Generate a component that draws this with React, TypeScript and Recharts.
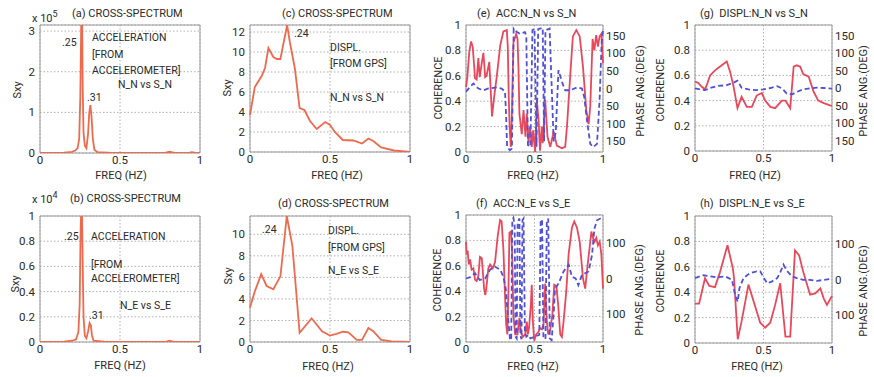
import { CartesianGrid, Line, LineChart, ReferenceArea, XAxis, YAxis } from "recharts";
import type { ReactNode } from "react";

type Pt = [number, number]; // [freq (Hz), value]

// (a) cross-spectrum, acceleration N_N vs S_N (x 10^5)
const accSpecNN: Pt[] = [
  [0, 0], [0.1, 0.005], [0.15, 0.01], [0.2, 0.03], [0.22, 0.06], [0.235, 0.12], [0.245, 0.35],
  [0.252, 1.4], [0.258, 3.3], [0.263, 3.3], [0.267, 1.6], [0.272, 0.5], [0.28, 0.18], [0.29, 0.12],
  [0.3, 0.45], [0.308, 1.0], [0.315, 1.18], [0.322, 0.9], [0.33, 0.35], [0.34, 0.08], [0.36, 0.02],
  [0.45, 0.005], [0.6, 0], [0.78, 0.005], [0.81, 0.03], [0.84, 0.005], [0.93, 0.005], [0.95, 0.02],
  [0.97, 0.005], [1, 0],
];

// (b) cross-spectrum, acceleration N_E vs S_E (x 10^4)
const accSpecNE: Pt[] = [
  [0, 0], [0.15, 0.003], [0.2, 0.01], [0.225, 0.02], [0.24, 0.08], [0.248, 0.3], [0.254, 0.9],
  [0.258, 1.05], [0.262, 1.05], [0.266, 0.7], [0.272, 0.2], [0.28, 0.05], [0.29, 0.03], [0.3, 0.08],
  [0.31, 0.15], [0.318, 0.13], [0.325, 0.05], [0.335, 0.01], [0.4, 0.003], [0.6, 0], [0.79, 0.003],
  [0.81, 0.01], [0.83, 0.003], [1, 0],
];

// (c) cross-spectrum, GPS displacement N_N vs S_N
const gpsSpecNN: Pt[] = [
  [0, 3.7], [0.03, 6.5], [0.073, 7.6], [0.094, 8.4], [0.115, 10.4], [0.146, 9.5], [0.167, 9.3],
  [0.19, 9.3], [0.232, 12.7], [0.25, 10.9], [0.28, 8.4], [0.31, 4.4], [0.34, 4.2], [0.375, 3.1],
  [0.417, 2.3], [0.47, 3.0], [0.5, 2.7], [0.53, 2.0], [0.58, 1.2], [0.646, 1.15], [0.7, 0.85],
  [0.74, 1.35], [0.77, 1.1], [0.82, 0.45], [0.9, 0.15], [1, 0],
];

// (d) cross-spectrum, GPS displacement N_E vs S_E
const gpsSpecNE: Pt[] = [
  [0, 3.2], [0.03, 4.7], [0.07, 6.3], [0.104, 5.2], [0.146, 4.9], [0.19, 6.1], [0.23, 11.7],
  [0.265, 8.9], [0.31, 0.85], [0.385, 2.2], [0.45, 1.0], [0.5, 0.6], [0.54, 0.75], [0.58, 0.95],
  [0.615, 0.9], [0.667, 0.2], [0.7, 0.2], [0.74, 1.3], [0.77, 1.0], [0.82, 0.2], [0.885, 0.05], [1, 0],
];

// (e) coherence / phase, ACC N_N vs S_N
const cohAccNN: Pt[] = [
  [0, 0.51], [0.01, 0.59], [0.024, 0.79], [0.037, 0.87], [0.049, 0.83], [0.066, 0.58], [0.078, 0.57],
  [0.09, 0.74], [0.1, 0.59], [0.115, 0.7], [0.127, 0.78], [0.14, 0.59], [0.15, 0.6], [0.17, 0.71],
  [0.19, 0.28], [0.205, 0.43], [0.224, 0.59], [0.25, 0.84], [0.273, 0.95], [0.298, 0.96], [0.305, 0.83],
  [0.312, 0.43], [0.32, 0.16], [0.327, 0.04], [0.334, 0.25], [0.346, 0.86], [0.366, 0.93], [0.376, 0.89],
  [0.383, 0.66], [0.39, 0.3], [0.407, 0.14], [0.42, 0.33], [0.434, 0.12], [0.444, 0.3], [0.456, 0.07],
  [0.468, 0.2], [0.48, 0.04], [0.49, 0.17], [0.505, 0], [0.517, 0.41], [0.53, 0.25], [0.54, 0.01],
  [0.553, 0.2], [0.56, 0.07], [0.578, 0.41], [0.595, 0.12], [0.615, 0.04], [0.64, 0.16], [0.663, 0.05],
  [0.7, 0.03], [0.724, 0.04], [0.737, 0.2], [0.76, 0.59], [0.78, 0.91], [0.805, 0.96], [0.83, 0.91],
  [0.854, 0.67], [0.878, 0.33], [0.895, 0.22], [0.907, 0.36], [0.924, 0.89], [0.937, 0.8], [0.95, 0.92],
  [0.963, 0.83], [0.975, 0.91], [0.988, 0.93], [1, 0.7],
];
const phAccNN: Pt[] = [
  [0, -9], [0.03, 5], [0.054, 14], [0.09, 0], [0.127, -5], [0.163, 0], [0.224, 3], [0.26, 0],
  [0.285, -9], [0.293, -80], [0.3, -165], [0.32, -175], [0.335, -170], [0.348, 170], [0.37, 161],
  [0.395, 155], [0.43, 160], [0.44, 150], [0.452, -160], [0.47, -165], [0.485, 165], [0.5, 170],
  [0.515, -165], [0.527, 168], [0.56, 172], [0.57, -150], [0.58, 165], [0.61, 170], [0.64, -150],
  [0.655, -125], [0.675, 52], [0.7, 19], [0.724, -5], [0.76, -5], [0.81, 3], [0.846, 0], [0.863, -24],
  [0.883, -90], [0.907, -157], [0.93, -166], [0.956, -157], [0.975, -33], [0.99, 128], [1, 166],
];

// (f) coherence / phase, ACC N_E vs S_E
const cohAccNE: Pt[] = [
  [0, 0.79], [0.005, 0.69], [0.012, 0.72], [0.02, 0.61], [0.03, 0.65], [0.041, 0.57], [0.054, 0.58],
  [0.066, 0.49], [0.078, 0.48], [0.09, 0.52], [0.102, 0.67], [0.115, 0.66], [0.122, 0.57], [0.132, 0.42],
  [0.141, 0.37], [0.151, 0.45], [0.163, 0.58], [0.176, 0.61], [0.195, 0.58], [0.212, 0.63], [0.232, 0.84],
  [0.249, 0.96], [0.26, 0.95], [0.273, 0.73], [0.283, 0.42], [0.293, 0.14], [0.302, 0.06], [0.31, 0.42],
  [0.317, 0.86], [0.329, 0.87], [0.337, 0.69], [0.346, 0.21], [0.359, 0.06], [0.376, 0.06], [0.39, 0.19],
  [0.4, 0.08], [0.415, 0.04], [0.432, 0.06], [0.444, 0.16], [0.451, 0.06], [0.46, 0.11], [0.473, 0.29],
  [0.48, 0.45], [0.488, 0.16], [0.498, 0.01], [0.512, 0.06], [0.53, 0.08], [0.54, 0.11], [0.554, 0.1],
  [0.566, 0.14], [0.578, 0.46], [0.59, 0.16], [0.6, 0.06], [0.615, 0.1], [0.63, 0.21], [0.644, 0.45],
  [0.66, 0.44], [0.673, 0.29], [0.688, 0.06], [0.7, 0.04], [0.712, 0.16], [0.732, 0.4], [0.749, 0.69],
  [0.773, 0.9], [0.79, 0.95], [0.81, 0.9], [0.83, 0.79], [0.854, 0.5], [0.87, 0.42], [0.888, 0.61],
  [0.902, 0.74], [0.915, 0.87], [0.927, 0.82], [0.939, 0.79], [0.951, 0.82], [0.963, 0.76], [0.976, 0.79],
  [0.988, 0.69], [1, 0.42],
];
const phAccNE: Pt[] = [
  [0, 0], [0.03, 4], [0.066, 15], [0.1, -4], [0.14, 0], [0.176, 25], [0.21, 34], [0.25, 25], [0.273, 5],
  [0.29, -29], [0.31, -125], [0.322, -175], [0.33, -170], [0.338, 165], [0.346, 172], [0.355, 150],
  [0.362, -165], [0.37, -170], [0.377, 160], [0.39, 170], [0.397, -160], [0.405, -172], [0.412, 165],
  [0.42, 170], [0.43, -150], [0.44, -165], [0.455, -160], [0.47, -170], [0.5, -165], [0.535, -160],
  [0.545, 160], [0.555, 168], [0.565, -165], [0.58, -172], [0.59, 160], [0.6, 170], [0.612, -170],
  [0.625, -175], [0.64, -100], [0.65, -29], [0.676, -14], [0.712, 20], [0.75, 39], [0.773, 5], [0.8, 0],
  [0.82, -19], [0.846, 10], [0.87, 15], [0.895, 20], [0.92, 67], [0.937, 141], [0.956, 165], [0.98, 170],
  [1, 175],
];

// (g) coherence / phase, DISPL N_N vs S_N
const cohGpsNN: Pt[] = [
  [0, 0.55], [0.024, 0.54], [0.049, 0.51], [0.073, 0.49], [0.085, 0.52], [0.11, 0.6], [0.146, 0.64],
  [0.183, 0.67], [0.232, 0.71], [0.256, 0.63], [0.28, 0.52], [0.31, 0.34], [0.34, 0.43], [0.378, 0.35],
  [0.415, 0.35], [0.45, 0.44], [0.488, 0.46], [0.512, 0.4], [0.55, 0.35], [0.585, 0.34], [0.634, 0.4],
  [0.66, 0.4], [0.695, 0.34], [0.72, 0.67], [0.744, 0.68], [0.768, 0.67], [0.79, 0.61], [0.83, 0.59],
  [0.866, 0.47], [0.9, 0.4], [0.94, 0.38], [0.99, 0.36], [1, 0.36],
];
const phGpsNN: Pt[] = [
  [0, -1], [0.037, -4], [0.073, -6], [0.12, 1], [0.17, 6], [0.232, 8], [0.28, 15], [0.31, 21], [0.34, 1],
  [0.39, -4], [0.45, -6], [0.5, -4], [0.55, 0], [0.6, 5], [0.634, -1], [0.67, -16], [0.71, -18],
  [0.744, -11], [0.79, -4], [0.84, -1], [0.89, 1], [0.94, 0], [1, -2],
];

// (h) coherence / phase, DISPL N_E vs S_E
const cohGpsNE: Pt[] = [
  [0, 0.31], [0.03, 0.31], [0.073, 0.51], [0.105, 0.45], [0.146, 0.44], [0.183, 0.56], [0.237, 0.77],
  [0.276, 0.59], [0.285, 0.51], [0.312, 0.03], [0.34, 0.17], [0.39, 0.46], [0.427, 0.33], [0.476, 0.16],
  [0.512, 0.12], [0.549, 0.16], [0.585, 0.3], [0.622, 0.47], [0.66, 0.05], [0.695, 0.05], [0.73, 0.73],
  [0.76, 0.69], [0.79, 0.56], [0.84, 0.38], [0.878, 0.39], [0.915, 0.43], [0.94, 0.35], [0.963, 0.3],
  [1, 0.37],
];
const phGpsNE: Pt[] = [
  [0, 4], [0.06, 12], [0.11, 9], [0.16, 6], [0.22, 9], [0.27, -1], [0.293, -44], [0.312, -63],
  [0.324, -25], [0.354, 4], [0.4, 18], [0.45, 23], [0.476, 23], [0.5, 6], [0.527, -11], [0.56, -6],
  [0.6, 4], [0.62, 18], [0.646, 42], [0.67, 25], [0.707, 9], [0.744, 4], [0.79, -1], [0.84, -1],
  [0.89, -4], [0.94, -1], [1, 2],
];

const freqTicks = [0, 0.5, 1];
const cohTicks = [0, 0.2, 0.4, 0.6, 0.8, 1];
const phaseTicksFine = [-150, -100, -50, 0, 50, 100, 150];
const phaseTicksCoarse = [-100, 0, 100];

const FONT = "Roboto, 'DejaVu Sans', sans-serif";
const INK = "#2a2a2a";
const SPEC_RED = "#ee6a4e";
const COH_RED = "#e8485c";
const PH_BLUE = "#5050d8";

const LW = 34;
const RW = 34;
const TOP = 10;
const XH = 30;

const rows = (p: Pt[]) => p.map(([f, v]) => ({ f, v }));

interface PanelProps {
  x: number;
  y: number;
  w: number;
  h: number;
  yMax: number;
  yTicks: number[];
  main: Pt[];
  color: string;
  phase?: Pt[];
  phaseTicks?: number[];
}

function Panel({ x, y, w, h, yMax, yTicks, main, color, phase, phaseTicks }: PanelProps) {
  const tick = { fontSize: 11.5, fill: INK, fontFamily: FONT };
  return (
    <div style={{ position: "absolute", left: x - LW, top: y - TOP }}>
      <LineChart
        width={w + LW + RW}
        height={h + TOP + XH}
        margin={{ top: TOP, right: phase ? 0 : RW, bottom: 0, left: 0 }}
      >
        <CartesianGrid stroke="#b0b0b0" strokeDasharray="1.5 2" />
        <XAxis
          type="number"
          dataKey="f"
          domain={[0, 1]}
          ticks={freqTicks}
          interval={0}
          height={XH}
          axisLine={false}
          tickLine={false}
          tickSize={1}
          tickMargin={2}
          tick={tick}
        />
        <YAxis
          type="number"
          domain={[0, yMax]}
          ticks={yTicks}
          interval={0}
          width={LW}
          allowDataOverflow
          axisLine={false}
          tickLine={false}
          tickSize={3}
          tickMargin={2}
          tick={tick}
        />
        {phase && (
          <YAxis
            yAxisId="p"
            orientation="right"
            type="number"
            domain={[-180, 180]}
            ticks={phaseTicks}
            interval={0}
            tickFormatter={(v: number) => String(Math.abs(v))}
            width={RW}
            axisLine={false}
            tickLine={false}
            tickSize={1}
            tickMargin={2}
            tick={tick}
          />
        )}
        <ReferenceArea x1={0} x2={1} y1={0} y2={yMax} fill="none" stroke="#9a9a9a" strokeWidth={1} />
        <Line
          data={rows(main)}
          dataKey="v"
          stroke={color}
          strokeWidth={1.8}
          dot={false}
          isAnimationActive={false}
        />
        {phase && (
          <Line
            yAxisId="p"
            data={rows(phase)}
            dataKey="v"
            stroke={PH_BLUE}
            strokeWidth={1.8}
            strokeDasharray="5 3"
            dot={false}
            isAnimationActive={false}
          />
        )}
      </LineChart>
    </div>
  );
}

function T({ x, y, children, size = 10.5, center = false, rotate = false }: {
  x: number;
  y: number;
  children: ReactNode;
  size?: number;
  center?: boolean;
  rotate?: boolean;
}) {
  const transform = rotate
    ? "translate(-50%,-50%) rotate(-90deg)"
    : center
      ? "translate(-50%,-50%)"
      : "translate(0,-50%)";
  return (
    <div
      style={{
        position: "absolute",
        left: x,
        top: y,
        transform,
        fontSize: size,
        fontFamily: FONT,
        color: INK,
        whiteSpace: "pre",
        lineHeight: 1,
      }}
    >
      {children}
    </div>
  );
}

export default function App() {
  return (
    <div style={{ position: "absolute", left: 0, top: 0, width: 874, height: 377, background: "#fff", overflow: "hidden" }}>
      <Panel x={40} y={25} w={160} h={128} yMax={3.15} yTicks={[0, 1, 2, 3]} main={accSpecNN} color={SPEC_RED} />
      <Panel x={250} y={25} w={160} h={127} yMax={12.7} yTicks={[0, 2, 4, 6, 8, 10, 12]} main={gpsSpecNN} color={SPEC_RED} />
      <Panel x={466} y={25} w={137} h={127} yMax={1} yTicks={cohTicks} main={cohAccNN} color={COH_RED} phase={phAccNN} phaseTicks={phaseTicksFine} />
      <Panel x={695} y={25} w={137} h={126} yMax={1} yTicks={cohTicks} main={cohGpsNN} color={COH_RED} phase={phGpsNN} phaseTicks={phaseTicksFine} />

      <Panel x={40} y={216} w={160} h={126} yMax={1} yTicks={cohTicks} main={accSpecNE} color={SPEC_RED} />
      <Panel x={250} y={216} w={160} h={126} yMax={11.7} yTicks={[0, 2, 4, 6, 8, 10]} main={gpsSpecNE} color={SPEC_RED} />
      <Panel x={466} y={215} w={137} h={127} yMax={1} yTicks={cohTicks} main={cohAccNE} color={COH_RED} phase={phAccNE} phaseTicks={phaseTicksCoarse} />
      <Panel x={695} y={216} w={137} h={127} yMax={1} yTicks={cohTicks} main={cohGpsNE} color={COH_RED} phase={phGpsNE} phaseTicks={phaseTicksCoarse} />

      {/* (a) */}
      <T x={32} y={17} size={11}>x 10<sup style={{ fontSize: 9 }}>5</sup></T>
      <T x={72} y={13} size={11}>(a) CROSS-SPECTRUM</T>
      <T x={17} y={90} size={11} rotate>Sxy</T>
      <T x={62} y={43}>.25</T>
      <T x={92} y={38}>ACCELERATION</T>
      <T x={92} y={55}>[FROM</T>
      <T x={92} y={71}>ACCELEROMETER]</T>
      <T x={118} y={85}>N_N vs S_N</T>
      <T x={87} y={98}>.31</T>
      <T x={121} y={175} size={11} center>FREQ (HZ)</T>

      {/* (c) */}
      <T x={282} y={13} size={11}>(c) CROSS-SPECTRUM</T>
      <T x={227} y={88} size={11} rotate>Sxy</T>
      <T x={294} y={34}>.24</T>
      <T x={330} y={48}>DISPL.</T>
      <T x={330} y={64}>[FROM GPS]</T>
      <T x={330} y={98}>N_N vs S_N</T>
      <T x={337} y={175} size={11} center>FREQ (HZ)</T>

      {/* (e) */}
      <T x={477} y={13} size={11}>(e)  ACC:N_N vs S_N</T>
      <T x={438} y={88} size={11} rotate>COHERENCE</T>
      <T x={640} y={91} size={11} rotate>PHASE ANG.(DEG)</T>
      <T x={533} y={175} size={11} center>FREQ (HZ)</T>

      {/* (g) */}
      <T x={700} y={13} size={11}>(g)  DISPL:N_N vs S_N</T>
      <T x={660} y={90} size={11} rotate>COHERENCE</T>
      <T x={863} y={91} size={11} rotate>PHASE ANG.(DEG)</T>
      <T x={755} y={175} size={11} center>FREQ (HZ)</T>

      {/* (b) */}
      <T x={32} y={198} size={11}>x 10<sup style={{ fontSize: 9 }}>4</sup></T>
      <T x={70} y={198} size={11}>(b) CROSS-SPECTRUM</T>
      <T x={15} y={284} size={11} rotate>Sxy</T>
      <T x={64} y={237}>.25</T>
      <T x={91} y={237}>ACCELERATION</T>
      <T x={91} y={265}>[FROM</T>
      <T x={91} y={279}>ACCELEROMETER]</T>
      <T x={120} y={306}>N_E vs S_E</T>
      <T x={89} y={316}>.31</T>
      <T x={120} y={365} size={11} center>FREQ (HZ)</T>

      {/* (d) */}
      <T x={278} y={203} size={11}>(d) CROSS-SPECTRUM</T>
      <T x={228} y={276} size={11} rotate>Sxy</T>
      <T x={262} y={230}>.24</T>
      <T x={328} y={231}>DISPL.</T>
      <T x={328} y={248}>[FROM GPS]</T>
      <T x={328} y={271}>N_E vs S_E</T>
      <T x={328} y={366} size={11} center>FREQ (HZ)</T>

      {/* (f) */}
      <T x={476} y={203} size={11}>(f)  ACC:N_E vs S_E</T>
      <T x={437} y={280} size={11} rotate>COHERENCE</T>
      <T x={639} y={290} size={11} rotate>PHASE ANG.(DEG)</T>
      <T x={533} y={366} size={11} center>FREQ (HZ)</T>

      {/* (h) */}
      <T x={700} y={203} size={11}>(h)  DISPL:N_E vs S_E</T>
      <T x={660} y={281} size={11} rotate>COHERENCE</T>
      <T x={863} y={291} size={11} rotate>PHASE ANG.(DEG)</T>
      <T x={757} y={366} size={11} center>FREQ (HZ)</T>
    </div>
  );
}
